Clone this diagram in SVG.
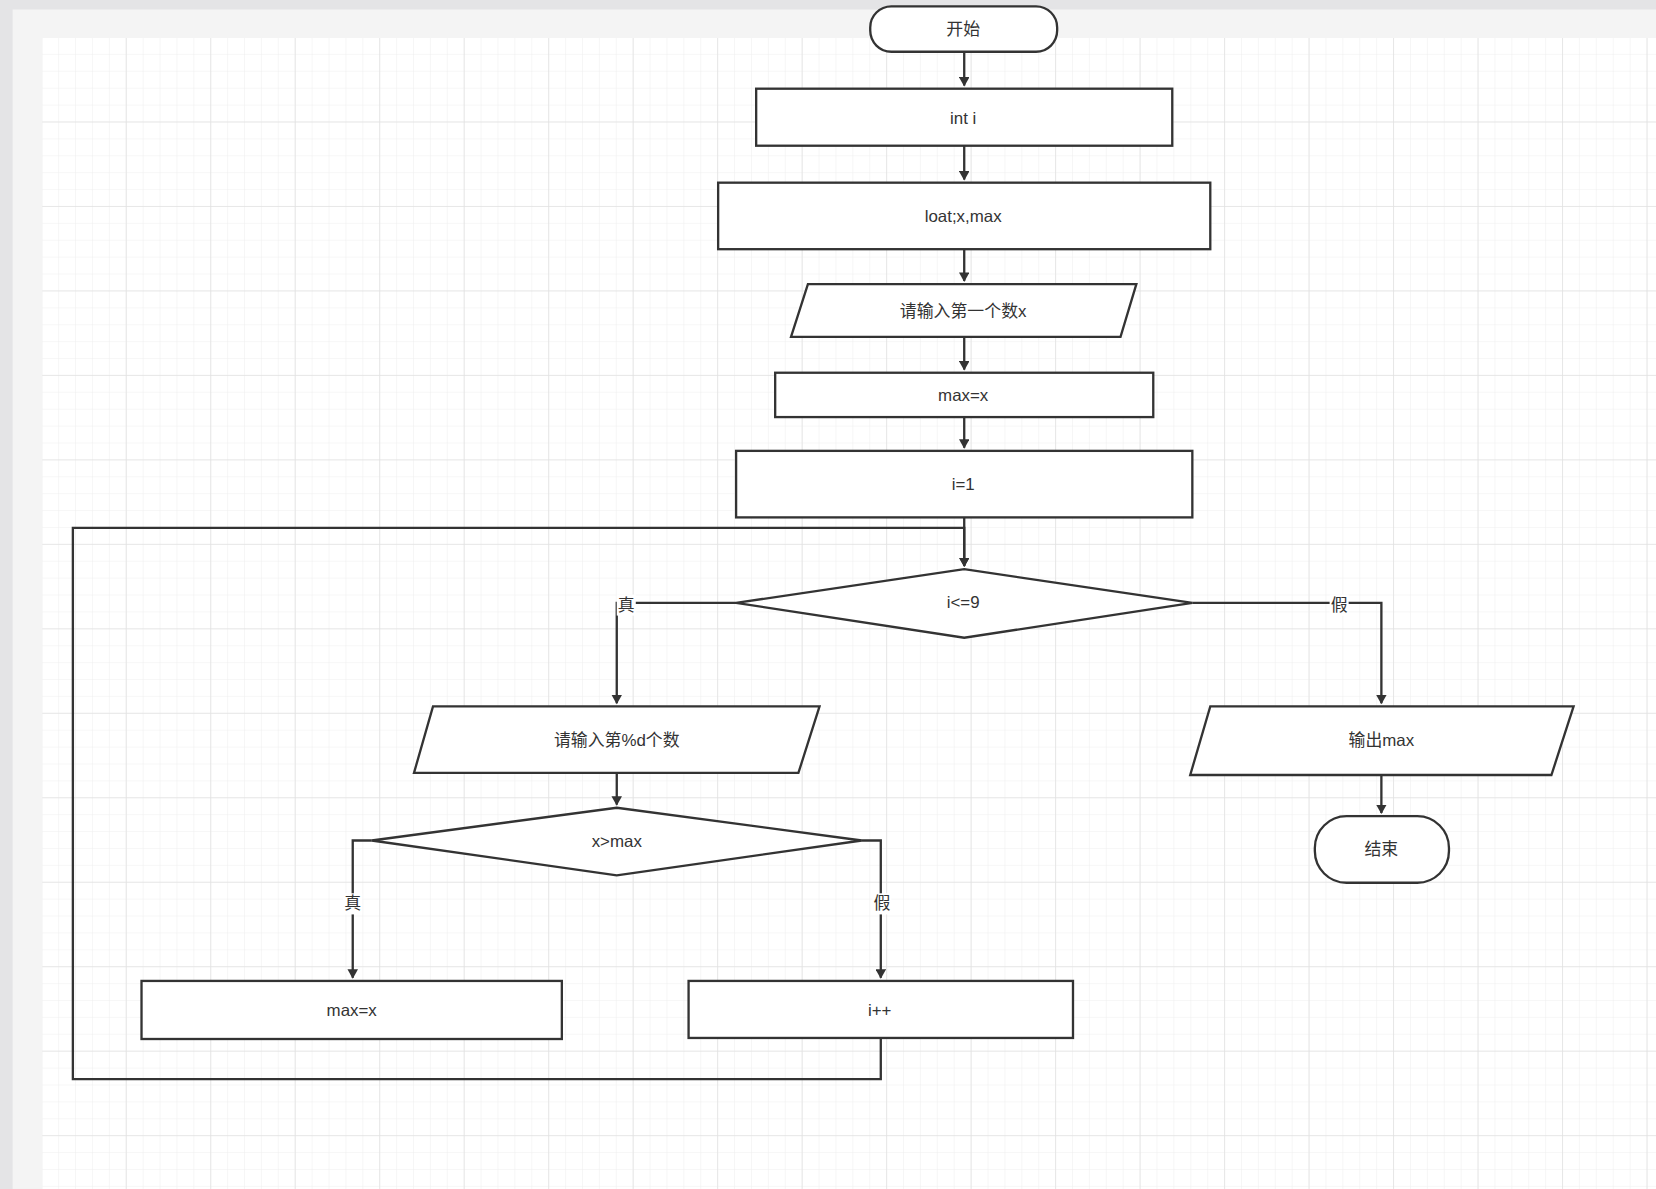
<svg xmlns="http://www.w3.org/2000/svg" width="1656" height="1189" viewBox="0 0 1656 1189">
<defs>
<pattern id="minor" width="16" height="16" patternUnits="userSpaceOnUse" x="40" y="36"><path d="M16 0V16H0" fill="none" stroke="#efefef" stroke-width="1"/></pattern>
<pattern id="major" width="80" height="80" patternUnits="userSpaceOnUse" x="40" y="36"><path d="M80 0V80H0" fill="none" stroke="#e2e2e2" stroke-width="1.5"/></pattern>
<marker id="ar" markerWidth="10" markerHeight="10" refX="8" refY="5" orient="auto" markerUnits="userSpaceOnUse"><path d="M0 0L9 5L0 10Z" fill="#333"/></marker>
</defs>
<style>
.n{fill:#fff;stroke:#333;stroke-width:2.2}
.t{font-family:"Liberation Sans","Noto Sans CJK SC",sans-serif;font-size:16px;fill:#333;text-anchor:middle;dominant-baseline:central}
.c{fill:none;stroke:#333;stroke-width:2.2}
.lb{fill:#fff}
</style>
<rect width="1656" height="1189" fill="#e4e4e6"/>
<g transform="scale(1.0561 1.0559)">
<rect x="12" y="9" width="1556" height="1117" fill="#f4f4f4"/>
<rect x="40" y="36" width="1528" height="1090" fill="#fff"/>
<rect x="40" y="36" width="1528" height="1090" fill="url(#minor)"/>
<rect x="40" y="36" width="1528" height="1090" fill="url(#major)"/>
<g id="connectors">
<path class="c" d="M913 49V81" marker-end="url(#ar)"/>
<path class="c" d="M913 138V170" marker-end="url(#ar)"/>
<path class="c" d="M913 236V266" marker-end="url(#ar)"/>
<path class="c" d="M913 319V350" marker-end="url(#ar)"/>
<path class="c" d="M913 395V424" marker-end="url(#ar)"/>
<path class="c" d="M913 490V536" marker-end="url(#ar)"/>
<path class="c" d="M697 571H584V666" marker-end="url(#ar)"/>
<path class="c" d="M1129 571H1308V666" marker-end="url(#ar)"/>
<path class="c" d="M584 732V762" marker-end="url(#ar)"/>
<path class="c" d="M1308 734V770" marker-end="url(#ar)"/>
<path class="c" d="M352 796H334V926" marker-end="url(#ar)"/>
<path class="c" d="M816 796H834V926" marker-end="url(#ar)"/>
<path class="c" d="M834 983V1022H69V500H913V536" marker-end="url(#ar)"/>
<rect class="lb" x="584" y="563" width="18" height="20"/><text class="t" x="593" y="573">真</text>
<rect class="lb" x="1259" y="563" width="18" height="20"/><text class="t" x="1268" y="573">假</text>
<rect class="lb" x="325" y="846" width="18" height="20"/><text class="t" x="334" y="856">真</text>
<rect class="lb" x="826" y="846" width="18" height="20"/><text class="t" x="835" y="856">假</text>
</g>
<g id="start"><rect class="n" x="824" y="6" width="177" height="43" rx="20"/><text class="t" x="912" y="28">开始</text></g>
<g id="inti"><rect class="n" x="716" y="84" width="394" height="54"/><text class="t" x="912" y="112">int i</text></g>
<g id="loat"><rect class="n" x="680" y="173" width="466" height="63"/><text class="t" x="912" y="205">loat;x,max</text></g>
<g id="in1"><path class="n" d="M765 269H1076L1061 319H749Z"/><text class="t" x="912" y="295">请输入第一个数x</text></g>
<g id="max1"><rect class="n" x="734" y="353" width="358" height="42"/><text class="t" x="912" y="375">max=x</text></g>
<g id="i1"><rect class="n" x="697" y="427" width="432" height="63"/><text class="t" x="912" y="459">i=1</text></g>
<g id="cond1"><path class="n" d="M697 571L913 539L1129 571L913 604Z"/><text class="t" x="912" y="571">i&lt;=9</text></g>
<g id="in2"><path class="n" d="M410 669H776L756 732H392Z"/><text class="t" x="584" y="701">请输入第%d个数</text></g>
<g id="cond2"><path class="n" d="M352 796L584 765L816 796L584 829Z"/><text class="t" x="584" y="797">x&gt;max</text></g>
<g id="max2"><rect class="n" x="134" y="929" width="398" height="55"/><text class="t" x="333" y="957">max=x</text></g>
<g id="inc"><rect class="n" x="652" y="929" width="364" height="54"/><text class="t" x="833" y="957">i++</text></g>
<g id="out"><path class="n" d="M1146 669H1490L1469 734H1127Z"/><text class="t" x="1308" y="701">输出max</text></g>
<g id="end"><rect class="n" x="1245" y="773" width="127" height="63" rx="30"/><text class="t" x="1308" y="805">结束</text></g>
</g>
</svg>
